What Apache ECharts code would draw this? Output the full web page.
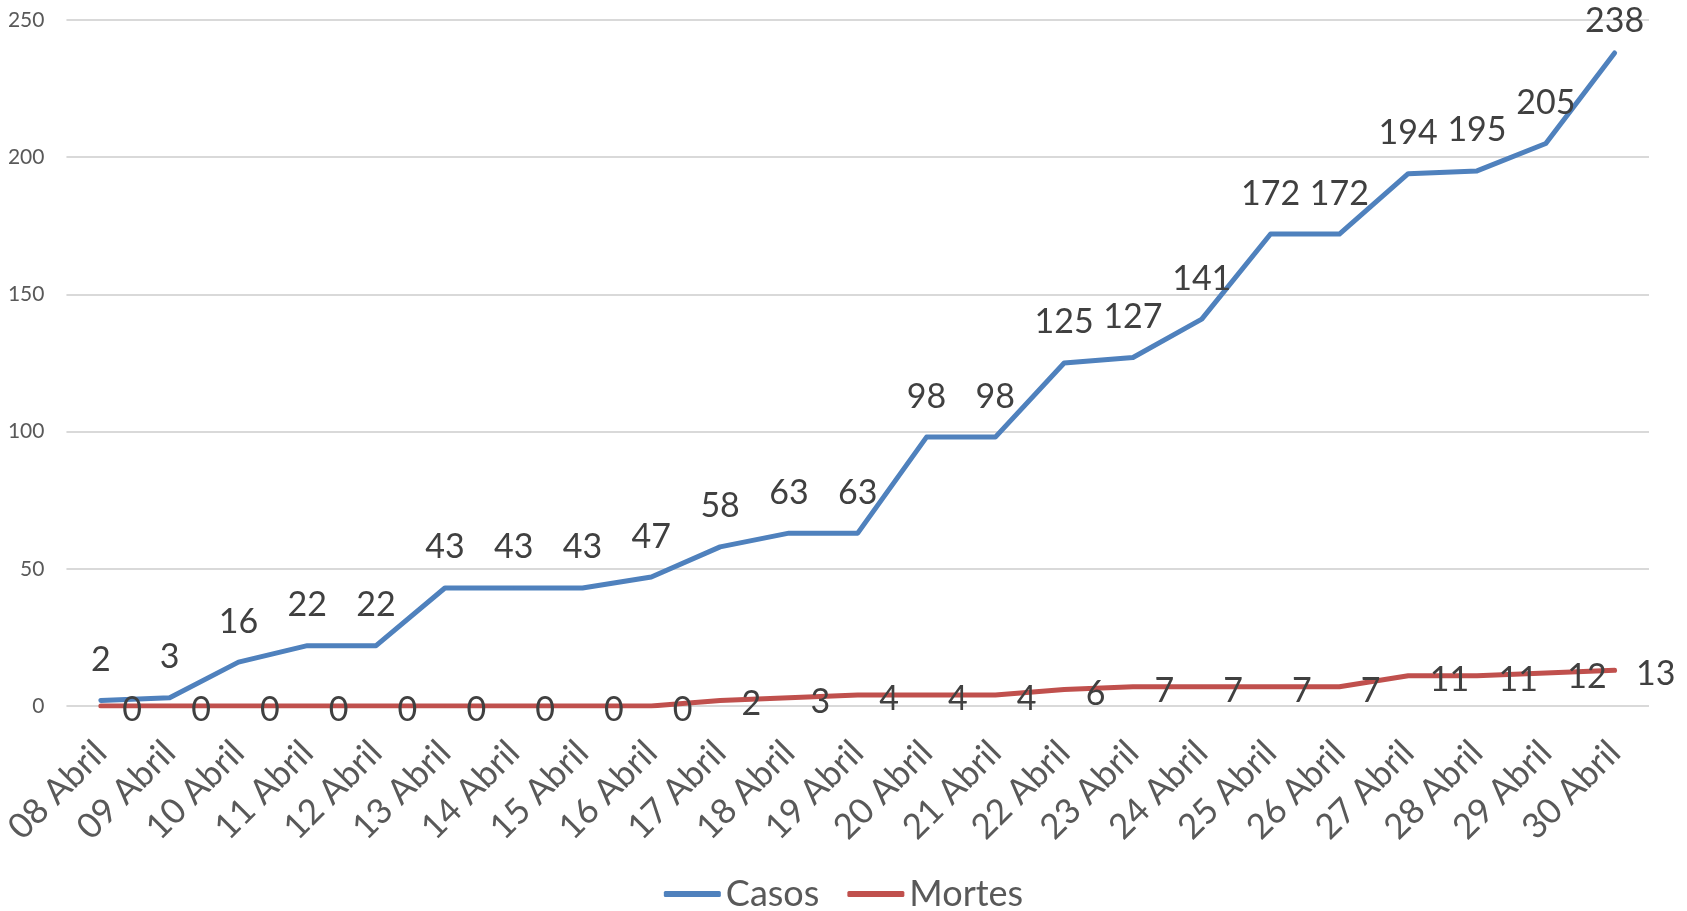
<!DOCTYPE html>
<html>
<head>
<meta charset="utf-8">
<script src="https://cdn.jsdelivr.net/npm/echarts@6/dist/echarts.min.js"></script>
<style>
  html, body { margin: 0; padding: 0; background: #ffffff; }
  #chart { width: 1687px; height: 911px; }
</style>
</head>
<body>
<div id="chart"></div>
<script>
// Days of April
const dias = ['08 Abril', '09 Abril', '10 Abril', '11 Abril', '12 Abril', '13 Abril', '14 Abril',
  '15 Abril', '16 Abril', '17 Abril', '18 Abril', '19 Abril', '20 Abril', '21 Abril', '22 Abril',
  '23 Abril', '24 Abril', '25 Abril', '26 Abril', '27 Abril', '28 Abril', '29 Abril', '30 Abril'];

// Cumulative confirmed cases
const casos = [2, 3, 16, 22, 22, 43, 43, 43, 47, 58, 63, 63, 98, 98, 125, 127, 141, 172, 172, 194, 195, 205, 238];

// Cumulative deaths
const mortes = [0, 0, 0, 0, 0, 0, 0, 0, 0, 2, 3, 4, 4, 4, 6, 7, 7, 7, 7, 11, 11, 12, 13];

const FONT = 'Lato, "Open Sans", sans-serif';
const AZUL = '#4f81bd';
const VERMELHO = '#c0504d';

// The last case label sits a little closer to its point so it stays inside the top edge
const casosData = casos.map((v, i) =>
  i === casos.length - 1 ? { value: v, label: { distance: 14 } } : v);

const chart = echarts.init(document.getElementById('chart'), null, { renderer: 'canvas' });

chart.setOption({
  backgroundColor: '#ffffff',
  animation: false,
  grid: { left: 65, right: 38, top: 20, bottom: 205, containLabel: false },
  legend: {
    bottom: -6,
    left: 'center',
    icon: 'roundRect',
    itemWidth: 57,
    itemHeight: 6,
    itemGap: 28,
    textStyle: { fontFamily: FONT, fontSize: 36, color: '#595959' },
    data: ['Casos', 'Mortes']
  },
  xAxis: {
    type: 'category',
    data: dias,
    boundaryGap: true,
    axisLine: { show: false },
    axisTick: { show: false },
    splitLine: { show: false },
    axisLabel: {
      interval: 0,
      rotate: 45,
      margin: 41,
      verticalAlign: 'middle',
      padding: [14, 0, 0, 0],
      fontFamily: FONT,
      fontSize: 35,
      color: '#595959'
    }
  },
  yAxis: {
    type: 'value',
    min: 0,
    max: 250,
    interval: 50,
    axisLine: { show: false },
    axisTick: { show: false },
    splitLine: { lineStyle: { color: '#d9d9d9', width: 2 } },
    axisLabel: { margin: 22, fontFamily: FONT, fontSize: 21, color: '#595959' }
  },
  series: [
    {
      name: 'Casos',
      type: 'line',
      data: casosData,
      symbol: 'circle',
      symbolSize: 1,
      showSymbol: true,
      lineStyle: { color: AZUL, width: 5, cap: 'round', join: 'round' },
      itemStyle: { color: AZUL },
      label: {
        show: true,
        position: 'top',
        distance: 23,
        fontFamily: FONT,
        fontSize: 34,
        color: '#404040'
      }
    },
    {
      name: 'Mortes',
      type: 'line',
      data: mortes,
      symbol: 'circle',
      symbolSize: 1,
      showSymbol: true,
      lineStyle: { color: VERMELHO, width: 5, cap: 'round', join: 'round' },
      itemStyle: { color: VERMELHO },
      label: {
        show: true,
        position: 'right',
        distance: 21,
        offset: [0, 4],
        fontFamily: FONT,
        fontSize: 34,
        color: '#404040'
      }
    }
  ]
});
</script>
</body>
</html>
